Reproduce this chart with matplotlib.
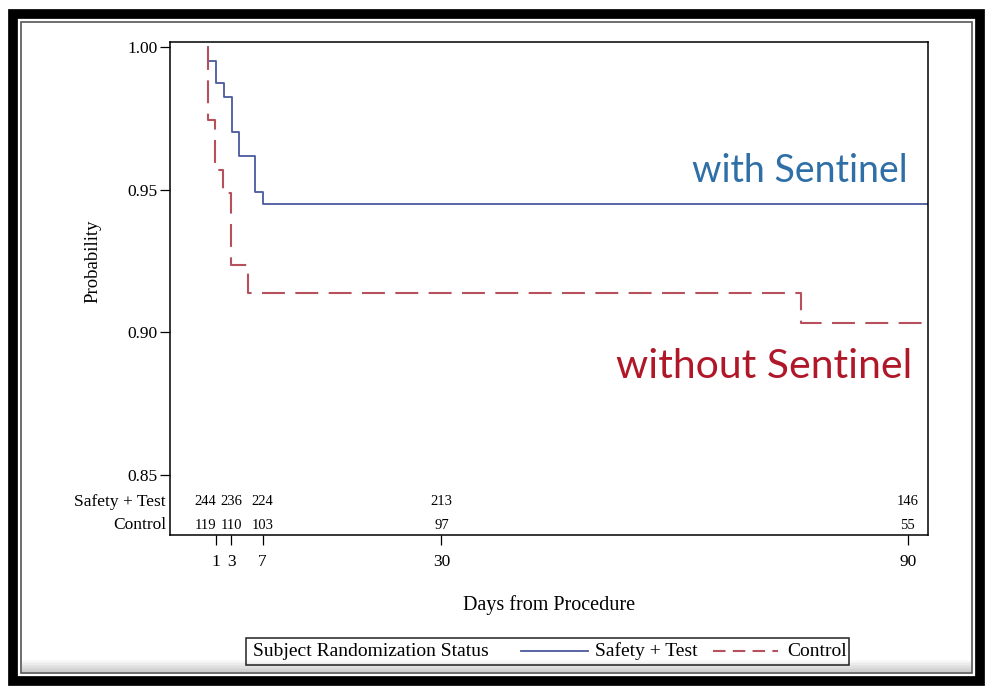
import matplotlib.pyplot as plt
from matplotlib.lines import Line2D
from matplotlib.patches import Rectangle

# Kaplan-Meier curves
safety_days = [0, 0, 1, 2, 3.1, 4, 6, 7.1, 93]
safety_prob = [1.0, 0.9951, 0.9874, 0.9825, 0.9702, 0.9618, 0.9492, 0.9450, 0.9450]
control_days = [0, 0, 0.9, 1.9, 3.0, 5.1, 76.3, 93]
control_prob = [1.0, 0.9744, 0.9569, 0.9488, 0.9236, 0.9138, 0.9033, 0.9033]

# numbers at risk
risk_days = [1, 3, 7, 30, 90]
safety_risk = [244, 236, 224, 213, 146]
control_risk = [119, 110, 103, 97, 55]

y_ticks = [0.85, 0.90, 0.95, 1.00]
y_ticklabels = ["0.85", "0.90", "0.95", "1.00"]

BLUE = "#4a5a9e"
RED = "#b5505c"

plt.rcParams["font.family"] = "Liberation Serif"

fig = plt.figure(figsize=(9.91, 6.90), dpi=100)
W, H = 991, 690


def fx(px):
    return px / W


def fy(py):
    return 1 - py / H


ax = fig.add_axes([fx(170), fy(535), fx(928) - fx(170), fy(42) - fy(535)])
ax.step(safety_days, safety_prob, where="post", color=BLUE, lw=1.3)
ax.step(control_days, control_prob, where="post", color=RED, lw=1.5,
        linestyle=(0, (11, 5)))

ax.set_xlim(-4.9, 92.6)
ax.set_ylim(0.829, 1.0018)
ax.set_xticks(risk_days)
ax.set_xticklabels([str(d) for d in risk_days], fontsize=12.5)
ax.set_yticks(y_ticks)
ax.set_yticklabels(y_ticklabels, fontsize=12.5)
ax.tick_params(direction="out", length=7, width=0.9)
ax.tick_params(axis="x", pad=7)
ax.tick_params(axis="y", pad=2)
for sp in ax.spines.values():
    sp.set_linewidth(1.1)

ax.set_xlabel("Days from Procedure", fontsize=14.5, labelpad=18)
ax.set_ylabel("Probability", fontsize=13.5)
ax.yaxis.set_label_coords(-0.09, 0.555)

# at-risk table inside the axes
row_y = [0.8406, 0.8325]
for yy, vals in zip(row_y, [safety_risk, control_risk]):
    for i, (d, v) in enumerate(zip(risk_days, vals)):
        ax.text(d, yy, str(v), ha="right" if i == 0 else "center", va="center",
                fontsize=10.5)
ax.text(-5.4, row_y[0], "Safety + Test", ha="right", va="center", fontsize=12.5)
ax.text(-5.4, row_y[1], "Control", ha="right", va="center", fontsize=12.5)

# callouts
fig.text(fx(908), fy(171), "with Sentinel", color="#2e6fa7", fontsize=27,
         family="Lato", ha="right", va="center")
fig.text(fx(912), fy(366), "without Sentinel", color="#b0182a", fontsize=29.5,
         family="Lato", ha="right", va="center")

# legend box
fig.add_artist(Rectangle((fx(246), fy(665)), fx(849) - fx(246), fy(638) - fy(665),
                         transform=fig.transFigure, fill=False, lw=1.1,
                         edgecolor="#222222"))
ly = fy(651)
fig.text(fx(253), ly, "Subject Randomization Status", fontsize=14, va="center")
fig.add_artist(Line2D([fx(521), fx(588)], [ly, ly], color=BLUE, lw=1.3,
                      transform=fig.transFigure))
fig.text(fx(595), ly, "Safety + Test", fontsize=14, va="center")
fig.add_artist(Line2D([fx(713), fx(778)], [ly, ly], color=RED, lw=1.5,
                      linestyle=(0, (6, 3.5)), transform=fig.transFigure))
fig.text(fx(787), ly, "Control", fontsize=14, va="center")

# picture frame
fig.add_artist(Rectangle((fx(13), fy(681)), fx(980) - fx(13), fy(14) - fy(681),
                         transform=fig.transFigure, fill=False, lw=7,
                         edgecolor="black"))
fig.add_artist(Rectangle((fx(21), fy(673)), fx(972) - fx(21), fy(22) - fy(673),
                         transform=fig.transFigure, fill=False, lw=1.2,
                         edgecolor="#555555"))
for k in range(8):
    fig.add_artist(Rectangle((fx(22), fy(672 - k * 1.5)), fx(971) - fx(22), 1.5 / H,
                             transform=fig.transFigure, color="black",
                             alpha=0.05 * (8 - k) / 2, lw=0))

fig.savefig("out.png", dpi=100)
